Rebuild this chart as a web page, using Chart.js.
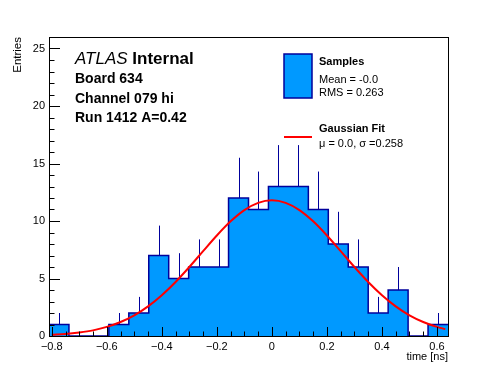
<!DOCTYPE html>
<html>
<head>
<meta charset="utf-8">
<script src="https://cdn.jsdelivr.net/npm/chart.js@4.4.1/dist/chart.umd.min.js"></script>
<style>
  html, body { margin: 0; padding: 0; background: #fff; }
  canvas { display: block; }
</style>
</head>
<body>
<canvas id="chart-hist" width="498" height="374"></canvas>
<script>
// ---------- data ----------
const binEdges = [-0.81, -0.7375, -0.665, -0.5925, -0.52, -0.4475, -0.375, -0.3025, -0.23, -0.1575,
                  -0.085, -0.0125, 0.06, 0.1325, 0.205, 0.2775, 0.35, 0.4225, 0.495, 0.5675, 0.64];
const binCounts = [1, 0, 0, 1, 2, 7, 5, 6, 6, 12, 11, 13, 13, 11, 8, 6, 2, 4, 0, 1];
const binErrors = [1.0, 0, 0, 1.0, 1.4, 2.6, 2.2, 2.4, 2.4, 3.5, 3.3, 3.6, 3.6, 3.3, 2.8, 2.4, 1.4, 2.0, 0, 1.0];

const fitX = [-0.80, -0.75, -0.70, -0.65, -0.60, -0.55, -0.50, -0.45, -0.40, -0.35, -0.30, -0.25, -0.20, -0.15, -0.10,
              -0.05, 0.00, 0.05, 0.10, 0.15, 0.20, 0.25, 0.30, 0.35, 0.40, 0.45, 0.50, 0.55, 0.60, 0.63];
const fitY = [0.10, 0.17, 0.30, 0.49, 0.79, 1.22, 1.80, 2.58, 3.55, 4.70, 6.00, 7.38, 8.74, 9.97, 10.95,
              11.58, 11.80, 11.58, 10.95, 9.97, 8.74, 7.38, 6.00, 4.70, 3.55, 2.58, 1.80, 1.22, 0.79, 0.60];

const headerLines = ['Board 634', 'Channel 079 hi', 'Run 1412 A=0.42'];
const legendSamples = ['Samples', 'Mean = -0.0', 'RMS = 0.263'];
const legendFit = ['Gaussian Fit', '\u03bc = 0.0, \u03c3 =0.258'];

const FONT = "'Liberation Sans', Arial, Helvetica, sans-serif";
const HIST_FILL = '#0099ff';
const HIST_LINE = '#00009c';

// histogram as a stepped line (one point per left edge, plus the last right edge)
const histPoints = binEdges.map((x, i) => ({ x: x, y: binCounts[Math.min(i, binCounts.length - 1)] }));
const fitPoints = fitX.map((x, i) => ({ x: x, y: fitY[i] }));

const fmtX = v => {
    const r = Math.round(v * 10) / 10;
    if (r === 0) return '0';
    return (r < 0 ? '\u2212' : '') + Math.abs(r).toFixed(1);
};

// ---------- error bars (upper half, hidden part is under the fill) ----------
const errorBarPlugin = {
    id: 'errorBars',
    afterDatasetDraw(chart, args) {
        if (args.index !== 0) return;
        const { ctx, scales: { x, y } } = chart;
        ctx.save();
        ctx.strokeStyle = HIST_LINE;
        ctx.lineWidth = 1;
        binCounts.forEach((n, i) => {
            if (!binErrors[i]) return;
            const cx = Math.round(x.getPixelForValue((binEdges[i] + binEdges[i + 1]) / 2)) + 0.5;
            ctx.beginPath();
            ctx.moveTo(cx, y.getPixelForValue(n));
            ctx.lineTo(cx, y.getPixelForValue(n + binErrors[i]));
            ctx.stroke();
        });
        ctx.restore();
    }
};

// ---------- ROOT-like frame, inward ticks, text & legend ----------
const decorPlugin = {
    id: 'decor',
    afterDraw(chart) {
        const { ctx, chartArea: a, scales: { x, y } } = chart;
        ctx.save();
        ctx.strokeStyle = '#000';
        ctx.lineWidth = 1;
        ctx.strokeRect(Math.round(a.left) + 0.5, Math.round(a.top) + 0.5,
                       Math.round(a.right - a.left), Math.round(a.bottom - a.top));

        ctx.beginPath();
        // x ticks: major 0.2, minor 0.05
        for (let k = -16; k <= 12; k++) {
            const px = Math.round(x.getPixelForValue(k * 0.05)) + 0.5;
            const len = (k % 4 === 0) ? 9 : 4.5;
            ctx.moveTo(px, a.bottom);
            ctx.lineTo(px, a.bottom - len);
        }
        // y ticks: major 5, minor 1
        for (let v = 0; v <= 26; v++) {
            const py = Math.round(y.getPixelForValue(v)) + 0.5;
            const len = (v % 5 === 0) ? 11 : 5.5;
            ctx.moveTo(a.left, py);
            ctx.lineTo(a.left + len, py);
        }
        ctx.stroke();

        // ATLAS label block
        ctx.fillStyle = '#000';
        ctx.textBaseline = 'alphabetic';
        ctx.textAlign = 'left';
        ctx.font = 'italic 17px ' + FONT;
        ctx.fillText('ATLAS', 75, 64);
        const w = ctx.measureText('ATLAS ').width;
        ctx.font = 'bold 17px ' + FONT;
        ctx.fillText('Internal', 75 + w, 64);
        ctx.font = 'bold 14px ' + FONT;
        headerLines.forEach((t, i) => ctx.fillText(t, 75, 83 + i * 19.5));

        // legend: samples box
        ctx.fillStyle = HIST_FILL;
        ctx.fillRect(284, 54, 28, 44);
        ctx.strokeStyle = HIST_LINE;
        ctx.lineWidth = 1.5;
        ctx.strokeRect(284, 54, 28, 44);
        ctx.fillStyle = '#000';
        ctx.font = 'bold 11px ' + FONT;
        ctx.fillText(legendSamples[0], 319, 65);
        ctx.font = '11px ' + FONT;
        ctx.fillText(legendSamples[1], 319, 83);
        ctx.fillText(legendSamples[2], 319, 96);

        // legend: fit line
        ctx.strokeStyle = '#ff0000';
        ctx.lineWidth = 2;
        ctx.beginPath();
        ctx.moveTo(284, 137);
        ctx.lineTo(312, 137);
        ctx.stroke();
        ctx.font = 'bold 11px ' + FONT;
        ctx.fillText(legendFit[0], 319, 132);
        ctx.font = '11px ' + FONT;
        ctx.fillText(legendFit[1], 319, 147);
        ctx.restore();
    }
};

new Chart(document.getElementById('chart-hist'), {
    type: 'line',
    data: {
        datasets: [
            {
                label: 'Samples',
                data: histPoints,
                stepped: 'before',
                fill: 'origin',
                backgroundColor: HIST_FILL,
                borderColor: HIST_LINE,
                borderWidth: 1.5,
                pointRadius: 0,
                order: 2
            },
            {
                label: 'Gaussian Fit',
                data: fitPoints,
                borderColor: '#ff0000',
                borderWidth: 2,
                pointRadius: 0,
                fill: false,
                cubicInterpolationMode: 'monotone',
                order: 1
            }
        ]
    },
    options: {
        responsive: false,
        animation: false,
        events: [],
        layout: { padding: { top: 37, right: 50, left: 0, bottom: 0 } },
        plugins: { legend: { display: false }, tooltip: { enabled: false } },
        scales: {
            x: {
                type: 'linear',
                min: -0.81,
                max: 0.64,
                grid: { display: false, drawTicks: false },
                border: { display: false },
                ticks: {
                    stepSize: 0.2,
                    includeBounds: false,
                    autoSkip: false,
                    maxRotation: 0,
                    padding: 4,
                    color: '#000',
                    font: { family: FONT, size: 11 },
                    callback: v => fmtX(v)
                },
                title: {
                    display: true,
                    text: 'time [ns]',
                    align: 'end',
                    color: '#000',
                    font: { family: FONT, size: 11 },
                    padding: { top: 0, bottom: 10 }
                },
                afterFit: s => { s.height = 38; }
            },
            y: {
                type: 'linear',
                min: 0,
                max: 26,
                grid: { display: false, drawTicks: false },
                border: { display: false },
                ticks: {
                    stepSize: 5,
                    includeBounds: false,
                    padding: 4,
                    color: '#000',
                    font: { family: FONT, size: 11 }
                },
                title: {
                    display: true,
                    text: 'Entries',
                    align: 'end',
                    color: '#000',
                    font: { family: FONT, size: 11.5 },
                    padding: { top: 11, bottom: 0 }
                },
                afterFit: s => { s.width = 49; }
            }
        }
    },
    plugins: [errorBarPlugin, decorPlugin]
});
</script>
</body>
</html>
